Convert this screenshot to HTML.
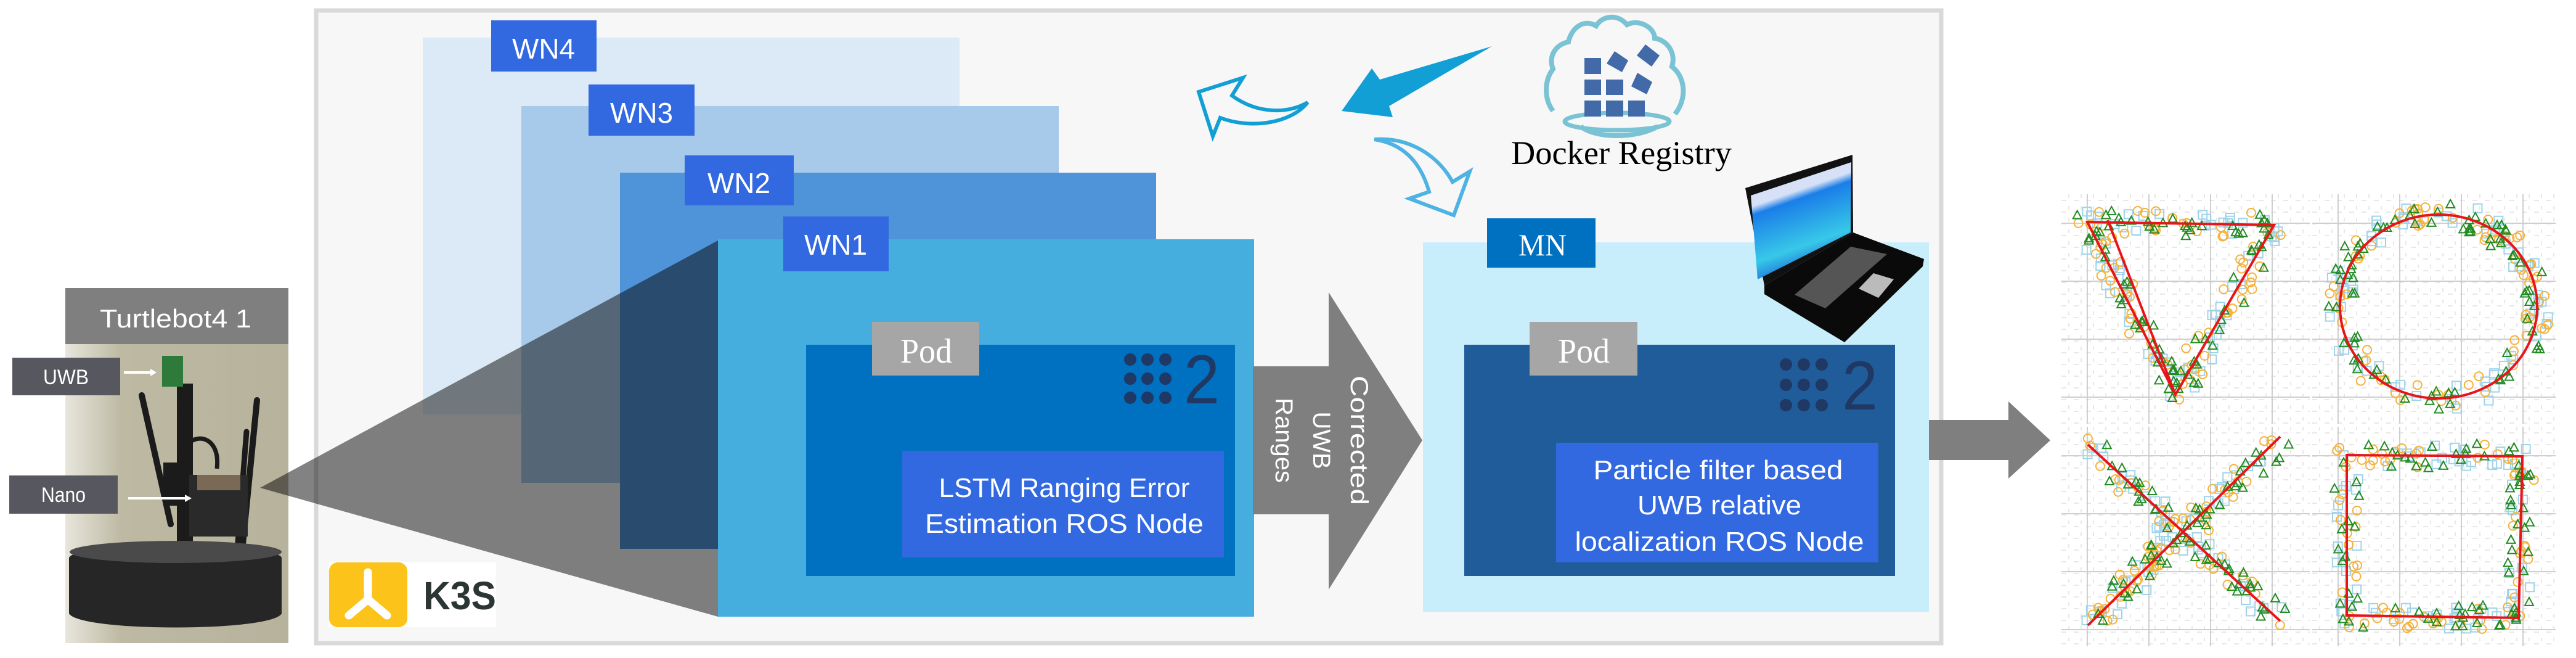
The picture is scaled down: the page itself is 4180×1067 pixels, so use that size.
<!DOCTYPE html>
<html><head><meta charset="utf-8"><style>
html,body{margin:0;padding:0;background:#fff;width:4180px;height:1067px;overflow:hidden}
svg{display:block}
.n{font-family:"Liberation Sans Narrow","Liberation Sans",sans-serif;fill:#fff}
.s{font-family:"Liberation Serif",serif}
</style></head><body>
<svg id="sv" width="4180" height="1067" viewBox="0 0 4180 1067" xmlns="http://www.w3.org/2000/svg">
<defs>
<linearGradient id="scr" x1="0" y1="0" x2="0.3" y2="1"><stop offset="0" stop-color="#d6e0f6"/><stop offset="0.35" stop-color="#d6e0f6"/><stop offset="0.42" stop-color="#1a7ee8"/><stop offset="0.8" stop-color="#38c8e8"/><stop offset="1" stop-color="#1a6ad8"/></linearGradient>
<linearGradient id="bg" x1="0" y1="0" x2="1" y2="0"><stop offset="0" stop-color="#e8e6dc"/><stop offset="0.25" stop-color="#bdb9a3"/><stop offset="1" stop-color="#b6b29c"/></linearGradient>
</defs>
<!-- main frame -->
<rect x="513" y="17" width="2637" height="1026" fill="#f7f7f7" stroke="#d9d9d9" stroke-width="7"/>
<!-- robot -->
<rect x="106" y="467" width="362" height="576" fill="url(#bg)"/>
<rect x="106" y="467" width="362" height="91" fill="#7f7f7f"/>
<text x="285" y="531" font-family="Liberation Sans,sans-serif" font-size="42" fill="#fff" text-anchor="middle" textLength="246" lengthAdjust="spacingAndGlyphs">Turtlebot4 1</text>
<g fill="#1b1b1b" stroke="#1b1b1b">
<line x1="230" y1="641" x2="277" y2="850" stroke-width="10" stroke-linecap="round"/>
<line x1="417" y1="649" x2="393" y2="892" stroke-width="10" stroke-linecap="round"/>
<line x1="400" y1="700" x2="385" y2="892" stroke-width="9" stroke-linecap="round"/>
<rect x="287" y="622" width="26" height="280" stroke="none"/>
<path d="M295,760 C285,700 360,690 352,760" fill="none" stroke-width="7"/>
<rect x="265" y="750" width="45" height="70" stroke="none"/>
<rect x="307" y="770" width="95" height="100" stroke="none" fill="#2a2a2a"/>
</g>
<rect x="263" y="577" width="34" height="50" fill="#2e7a3a"/>
<rect x="320" y="770" width="70" height="25" fill="#7a6a55"/>
<path d="M112,905 C112,880 457,880 457,905 L457,995 C440,1025 130,1025 112,995 Z" fill="#262626"/>
<ellipse cx="285" cy="895" rx="172" ry="18" fill="#4a4a4a"/>
<rect x="20" y="580" width="175" height="61" fill="#57575f"/>
<text x="107" y="623" font-family="Liberation Sans,sans-serif" font-size="34" fill="#fff" text-anchor="middle" textLength="74" lengthAdjust="spacingAndGlyphs">UWB</text>
<rect x="15" y="771" width="176" height="62" fill="#57575f"/>
<text x="103" y="814" font-family="Liberation Sans,sans-serif" font-size="34" fill="#fff" text-anchor="middle" textLength="72" lengthAdjust="spacingAndGlyphs">Nano</text>
<g stroke="#fff" stroke-width="4" fill="#fff"><line x1="201" y1="604" x2="246" y2="604"/><polygon points="254,604 244,598 244,610" stroke="none"/><line x1="208" y1="808" x2="302" y2="808"/><polygon points="311,808 300,802 300,814" stroke="none"/></g>
<!-- worker panels -->
<rect x="686" y="61" width="871" height="611" fill="#dce9f6"/>
<rect x="846" y="172" width="872" height="611" fill="#a7c9ea"/>
<rect x="1006" y="280" width="870" height="610" fill="#4f94d8"/>
<!-- projection triangle -->
<polygon points="422,791 1165,390 1165,1000" fill="#000" fill-opacity="0.49"/>
<rect x="1165" y="388" width="870" height="612" fill="#46aede"/>
<rect x="797" y="33" width="171" height="83" fill="#3268e0"/>
<text x="882" y="95" class="n" font-size="46" text-anchor="middle" textLength="102" lengthAdjust="spacingAndGlyphs">WN4</text>
<rect x="955" y="137" width="172" height="83" fill="#3268e0"/>
<text x="1041" y="199" class="n" font-size="46" text-anchor="middle" textLength="102" lengthAdjust="spacingAndGlyphs">WN3</text>
<rect x="1111" y="252" width="177" height="81" fill="#3268e0"/>
<text x="1199" y="313" class="n" font-size="46" text-anchor="middle" textLength="102" lengthAdjust="spacingAndGlyphs">WN2</text>
<rect x="1271" y="351" width="171" height="89" fill="#3268e0"/>
<text x="1356" y="413" class="n" font-size="46" text-anchor="middle" textLength="102" lengthAdjust="spacingAndGlyphs">WN1</text>
<!-- WN1 pod -->
<rect x="1308" y="559" width="696" height="375" fill="#0070c0"/>
<rect x="1415" y="522" width="174" height="87" fill="#a6a6a6"/>
<text x="1503" y="588" class="s" font-size="56" fill="#fff" text-anchor="middle" textLength="84" lengthAdjust="spacingAndGlyphs">Pod</text>
<g fill="#1f3864"><circle cx="1834" cy="583" r="10"/><circle cx="1862" cy="583" r="10"/><circle cx="1891" cy="583" r="10"/><circle cx="1834" cy="614" r="10"/><circle cx="1862" cy="614" r="10"/><circle cx="1891" cy="614" r="10"/><circle cx="1834" cy="645" r="10"/><circle cx="1862" cy="645" r="10"/><circle cx="1891" cy="645" r="10"/></g>
<text x="1950" y="654" font-family="Liberation Sans,sans-serif" font-size="112" fill="#1f3864" text-anchor="middle" textLength="58" lengthAdjust="spacingAndGlyphs">2</text>
<rect x="1464" y="731" width="522" height="173" fill="#3268e0"/>
<text x="1727" y="806" class="n" font-size="44" text-anchor="middle" textLength="407" lengthAdjust="spacingAndGlyphs">LSTM Ranging Error</text>
<text x="1727" y="864" class="n" font-size="44" text-anchor="middle" textLength="452" lengthAdjust="spacingAndGlyphs">Estimation ROS Node</text>
<!-- K3S -->
<rect x="534" y="912" width="271" height="105" fill="#fff"/>
<rect x="534" y="912" width="127" height="105" rx="14" fill="#fcc31a"/>
<g stroke="#fff" stroke-width="13" stroke-linecap="round" fill="none"><line x1="597" y1="928" x2="597" y2="968"/><line x1="597" y1="972" x2="566" y2="998"/><line x1="597" y1="972" x2="628" y2="998"/></g>
<text x="746" y="988" font-family="Liberation Sans Narrow,Liberation Sans,sans-serif" font-weight="bold" font-size="64" fill="#2b3534" text-anchor="middle" textLength="118" lengthAdjust="spacingAndGlyphs">K3S</text>
<!-- corrected arrow -->
<polygon points="2033,594 2156,594 2156,474 2308,714 2156,956 2156,834 2033,834" fill="#7f7f7f"/>
<g font-family="Liberation Sans,sans-serif" font-size="40" fill="#fff" text-anchor="middle">
<text transform="translate(2192,714) rotate(90)" textLength="210" lengthAdjust="spacingAndGlyphs">Corrected</text>
<text transform="translate(2131,714) rotate(90)">UWB</text>
<text transform="translate(2070,714) rotate(90)">Ranges</text>
</g>
<!-- MN -->
<rect x="2309" y="393" width="821" height="599" fill="#c9eefb"/>
<rect x="2413" y="354" width="176" height="80" fill="#0070c0"/>
<text x="2503" y="414" class="s" font-size="50" fill="#fff" text-anchor="middle" textLength="78" lengthAdjust="spacingAndGlyphs">MN</text>
<rect x="2376" y="559" width="699" height="375" fill="#1f5c99"/>
<rect x="2482" y="522" width="175" height="87" fill="#a6a6a6"/>
<text x="2570" y="588" class="s" font-size="56" fill="#fff" text-anchor="middle" textLength="84" lengthAdjust="spacingAndGlyphs">Pod</text>
<g fill="#1f3864"><circle cx="2898" cy="591" r="10"/><circle cx="2927" cy="591" r="10"/><circle cx="2956" cy="591" r="10"/><circle cx="2898" cy="624" r="10"/><circle cx="2927" cy="624" r="10"/><circle cx="2956" cy="624" r="10"/><circle cx="2898" cy="657" r="10"/><circle cx="2927" cy="657" r="10"/><circle cx="2956" cy="657" r="10"/></g>
<text x="3018" y="664" font-family="Liberation Sans,sans-serif" font-size="112" fill="#1f3864" text-anchor="middle" textLength="58" lengthAdjust="spacingAndGlyphs">2</text>
<rect x="2525" y="718" width="523" height="194" fill="#3268e0"/>
<text x="2788" y="777" class="n" font-size="44" text-anchor="middle" textLength="405" lengthAdjust="spacingAndGlyphs">Particle filter based</text>
<text x="2790" y="834" class="n" font-size="44" text-anchor="middle" textLength="266" lengthAdjust="spacingAndGlyphs">UWB relative</text>
<text x="2790" y="893" class="n" font-size="44" text-anchor="middle" textLength="469" lengthAdjust="spacingAndGlyphs">localization ROS Node</text>
<!-- laptop -->
<polygon points="2832,305 3006,251 3007,377 2863,463" fill="#111"/>
<polygon points="2841,317 3004,263 3003,377 2852,453" fill="url(#scr)"/>
<polygon points="2863,463 3007,377 3122,420 3120,432 2993,555 2863,477" fill="#0a0a0a"/>
<polygon points="2912,478 3003,400 3062,412 2962,500" fill="#555"/>
<polygon points="3016,468 3040,443 3073,453 3048,483" fill="#bbb"/>
<!-- docker cloud -->
<path d="M2520,180 C2505,160 2506,130 2520,112 C2512,90 2525,72 2545,68 C2550,45 2570,30 2590,42 C2600,25 2625,22 2640,40 C2660,30 2685,45 2685,62 C2705,65 2720,85 2713,108 C2735,125 2738,160 2718,185" fill="none" stroke="#7ac3d4" stroke-width="8"/>
<ellipse cx="2624" cy="197" rx="85" ry="14" fill="none" stroke="#7ac3d4" stroke-width="7"/>
<path d="M2565,205 C2590,225 2655,225 2690,205" fill="none" stroke="#7ac3d4" stroke-width="8"/>
<g fill="#426aa8"><rect x="2571" y="94" width="27" height="26"/><rect x="2571" y="129" width="27" height="25"/><rect x="2606" y="129" width="28" height="25"/><rect x="2571" y="163" width="27" height="26"/><rect x="2606" y="163" width="28" height="26"/><rect x="2642" y="163" width="27" height="26"/>
<polygon points="2620,83 2642,98 2632,117 2607,103"/><polygon points="2670,72 2693,90 2680,108 2656,90"/><polygon points="2657,118 2681,133 2672,153 2647,140"/></g>
<text x="2452" y="266" class="s" font-size="54" fill="#000" textLength="358" lengthAdjust="spacingAndGlyphs">Docker Registry</text>
<!-- blue arrows -->
<polygon points="2421,75 2254,172 2260,190 2177,180 2226,111 2239,129" fill="#129fd6"/>
<path d="M1945,149 L2017,126 L1999,155 C2040,185 2090,185 2122,166 C2095,200 2030,210 1980,191 L1968,221 Z" fill="none" stroke="#129fd6" stroke-width="6" stroke-linejoin="miter"/>
<path d="M2230,226 C2290,235 2310,280 2319,311 L2287,322 L2359,349 L2385,278 L2357,295 C2335,255 2290,222 2230,226 Z" fill="none" stroke="#4db3e2" stroke-width="6"/>
<!-- right arrow -->
<polygon points="3130,681 3259,681 3259,651 3327,714 3259,776 3259,746 3130,746" fill="#7f7f7f"/>
<g id="plots"></g>
</svg>
<script>
(function(){
var NS="http://www.w3.org/2000/svg",g=document.getElementById("plots");
function el(n,a){var e=document.createElementNS(NS,n);for(var k in a)e.setAttribute(k,a[k]);g.appendChild(e);return e;}
var s=7;function r(){s=(s*16807)%2147483647;return s/2147483647;}
el("rect",{x:3340,y:313,width:810,height:735,fill:"#fff"});
var panels=[[3345,315,3748,687],[3752,315,4147,687],[3345,692,3748,1048],[3752,692,4147,1048]];
panels.forEach(function(p){
 for(var x=p[0]+12;x<p[2];x+=20)el("line",{x1:x,y1:p[1],x2:x,y2:p[3],stroke:"#e0e0e0","stroke-width":1.5,"stroke-dasharray":"6 13"});
 for(var y=p[1]+10;y<p[3];y+=19)el("line",{x1:p[0],y1:y,x2:p[2],y2:y,stroke:"#e0e0e0","stroke-width":1.5,"stroke-dasharray":"8 12"});
 for(var x=p[0]+42;x<p[2];x+=100)el("line",{x1:x,y1:p[1],x2:x,y2:p[3],stroke:"#cfcfcf","stroke-width":2});
 for(var y=p[1]+47;y<p[3];y+=94)el("line",{x1:p[0],y1:y,x2:p[2],y2:y,stroke:"#cfcfcf","stroke-width":2});
});
function pts(fn,n,spread){var a=[];for(var i=0;i<n;i++){var t=r(),q=fn(t);a.push([q[0]+(r()-0.5)*spread,q[1]+(r()-0.5)*spread]);}return a;}
function seg(P){return function(t){var L=P.length-1,k=Math.min(L-1,Math.floor(t*L)),u=t*L-k;return [P[k][0]+(P[k+1][0]-P[k][0])*u,P[k][1]+(P[k+1][1]-P[k][1])*u];};}
var shapes=[
 {f:seg([[3387,360],[3690,365],[3530,640],[3387,360]]),d:"M3387,360 L3690,365 L3530,640 Z M3420,357 L3530,640"},
 {f:function(t){var a=t*6.283;return[3957+160*Math.cos(a),497+149*Math.sin(a)];},d:"M4117,497 A160,149 0 1 1 3797,497 A160,149 0 1 1 4117,497"},
 {f:function(t){return t<0.5?[3388+(3700-3388)*t*2,721+(1007-721)*t*2]:[3700-(3700-3388)*(t-0.5)*2,708+(1014-708)*(t-0.5)*2];},d:"M3388,721 L3700,1007 M3700,708 L3388,1014"},
 {f:seg([[3808,738],[4093,740],[4087,1002],[3808,998],[3808,738]]),d:"M3808,738 L4093,740 L4087,1002 L3808,998 Z"}];
shapes.forEach(function(sh){
 pts(sh.f,70,40).forEach(function(q){el("rect",{x:q[0]-7,y:q[1]-7,width:14,height:14,fill:"none",stroke:"#9fd3ea","stroke-width":2});});
 pts(sh.f,70,40).forEach(function(q){el("circle",{cx:q[0],cy:q[1],r:7,fill:"none",stroke:"#f5b13a","stroke-width":2});});
 pts(sh.f,80,40).forEach(function(q){el("polygon",{points:(q[0])+","+(q[1]-7)+" "+(q[0]-7)+","+(q[1]+6)+" "+(q[0]+7)+","+(q[1]+6),fill:"none",stroke:"#228b22","stroke-width":2});});
 el("path",{d:sh.d,fill:"none",stroke:"#e8141a","stroke-width":4});
});
})();
</script>
</body></html>
